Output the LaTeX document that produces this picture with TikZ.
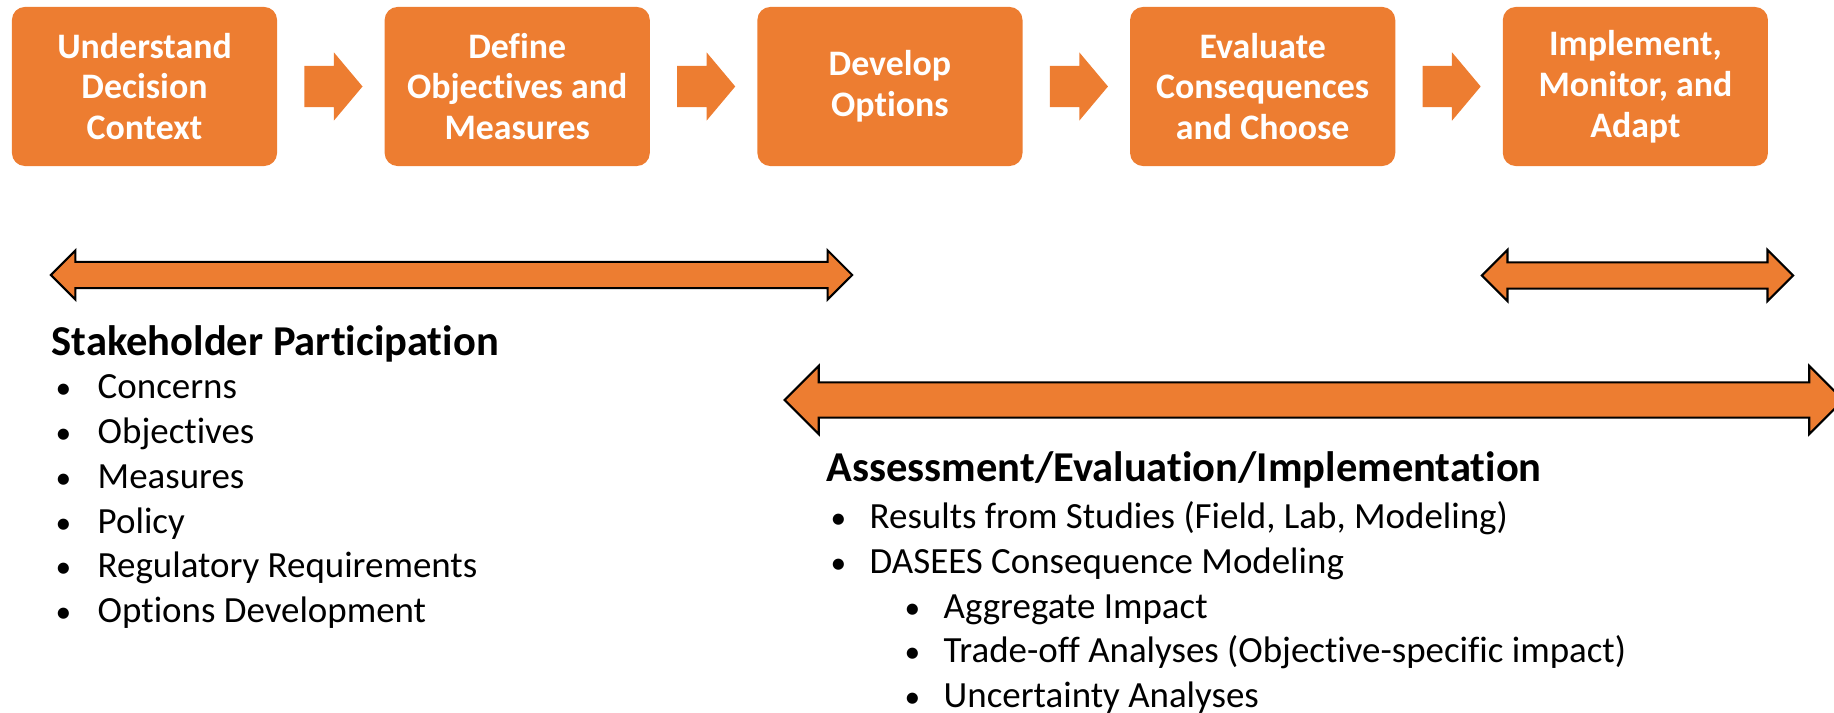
\documentclass[tikz,border=0pt]{standalone}
\usepackage{fontspec}
\setmainfont[Ligatures=NoCommon]{Carlito}
\usepackage{xcolor}
\usetikzlibrary{positioning, calc, shapes.arrows}
\definecolor{stageorange}{HTML}{ED7D31}
\newcommand\itemmark[1][0.40cm]{\makebox[#1][l]{\scalebox{0.85}{•}}}
\tikzset{
    stepbox/.style={rectangle, rounded corners=0.13cm, fill=stageorange, text=white,
        minimum width=2.65cm, minimum height=1.59cm, align=center, inner sep=0,
        font=\fontsize{10.2}{11.6}\selectfont\bfseries}, % the five stages
    chevron/.style={single arrow, fill=stageorange, draw=none, inner xsep=0, inner ysep=0.2cm,
        minimum height=0.58cm, single arrow head extend=0.135cm, single arrow tip angle=100},
    span/.style={double arrow, fill=stageorange, draw=black, line width=0.6pt, inner xsep=0,
        double arrow tip angle=90}, % phase arrows
    heading/.style={anchor=base west, inner sep=0, font=\fontsize{12.1}{14}\selectfont\bfseries},
    listitem/.style={anchor=base west, inner sep=0, font=\fontsize{10.5}{12.7}\selectfont},
}

\begin{document}
\begin{tikzpicture}[x=0.01cm, y=-0.01cm, node distance=3.725cm, on grid]
        \useasboundingbox (0,0) rectangle (1834,713);

        % Stages
        \node[stepbox] (ctx) at (144.5,86.5) {Understand\\Decision\\Context};
        \node[stepbox] (obj) [right=of ctx] {Define\\Objectives and\\Measures};
        \node[stepbox] (opt) [right=of obj] {Develop\\Options};
        \node[stepbox] (eva) [right=of opt] {Evaluate\\Consequences\\and Choose};
        \node[stepbox] (imp) [right=of eva] {Implement,\\Monitor, and\\Adapt};

        % Chevrons between stages
        \node[chevron, anchor=tail] (c1) at ($(ctx.east)+(26,0)$) {};
        \node[chevron, anchor=tail] (c2) at ($(obj.east)+(26,0)$) {};
        \node[chevron, anchor=tail] (c3) at ($(opt.east)+(26,0)$) {};
        \node[chevron, anchor=tail] (c4) at ($(eva.east)+(26,0)$) {};

        % Phase arrows
        \node[span, inner ysep=0.12cm, minimum height=8.01cm, double arrow head extend=0.115cm] (spArrow) at (451.5,275) {};
        \node[span, inner ysep=0.12cm, minimum height=3.11cm, double arrow head extend=0.125cm] (amArrow) at (1637.5,275.5) {};
        \node[span, inner ysep=0.165cm, minimum height=10.58cm, double arrow head extend=0.165cm] (aeArrow) at (1314,400) {};

        % Stakeholder Participation
        \node[heading] (spHead) at (51,356) {Stakeholder Participation};
        \foreach \txt [count=\k from 0] in {Concerns, Objectives, Measures, Policy, Regulatory Requirements, Options Development}
            \node[listitem] (sp\k) at (55,{399+44.7*\k}) {\itemmark[0.42cm]\txt};

        % Assessment/Evaluation/Implementation
        \node[heading] (aeHead) at (826,482) {Assessment/Evaluation/Implementation};
        \node[listitem] (ae0) at (830,529) {\itemmark[0.39cm]Results from Studies (Field, Lab, Modeling)};
        \node[listitem] (ae1) at (830,573.5) {\itemmark[0.39cm]DASEES Consequence Modeling};
        \foreach \txt [count=\k from 0] in {Aggregate Impact, Trade-off Analyses (Objective-specific impact), Uncertainty Analyses}
            \node[listitem] (sub\k) at (904,{618+44.5*\k}) {\itemmark[0.39cm]\txt};
\end{tikzpicture}
\end{document}
